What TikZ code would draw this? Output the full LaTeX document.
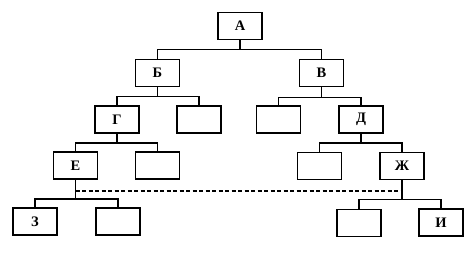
\documentclass[tikz,border=0pt]{standalone}
\usepackage{fontspec}
\setmainfont{Liberation Serif}
\begin{document}
\begin{tikzpicture}[x=1pt,y=-1pt,
  box/.style={draw,line width=1.6pt,minimum width=44pt,minimum height=27pt,inner sep=0pt,
    font=\fontsize{14.5}{16}\selectfont\bfseries},
  link/.style={line width=1.5pt},
  dashlink/.style={line width=1.4pt,dash pattern=on 4pt off 2.5pt}]
\useasboundingbox (0,0) rectangle (476,257);
\node[box] (A) at (240,26) {А};
\node[box] (B) at (157.5,73) {Б};
\node[box] (V) at (321.5,73) {В};
\node[box] (G) at (117,119.5) {Г};
\node[box] (n1) at (199,119.5) {};
\node[box] (n2) at (278.5,119.5) {};
\node[box] (D) at (361,119.5) {Д};
\node[box] (E) at (75.5,165.5) {Е};
\node[box] (n3) at (157.5,165.5) {};
\node[box] (n4) at (319.5,166) {};
\node[box] (Zh) at (402,166) {Ж};
\node[box] (Z) at (35,221.5) {З};
\node[box] (n5) at (118,221.5) {};
\node[box] (n6) at (359,223) {};
\node[box] (I) at (441,222.5) {И};
% connectors
\draw[link] (A.south) -- ++(0,9) -| (B.north);
\draw[link] (A.south) -- ++(0,9) -| (V.north);
\draw[link] (B.south) -- ++(0,9) -| (G.north);
\draw[link] (B.south) -- ++(0,9) -| (n1.north);
\draw[link] (V.south) -- ++(0,10) -| (n2.north);
\draw[link] (V.south) -- ++(0,10) -| (D.north);
\draw[link] (G.south) -- ++(0,9) -| (E.north);
\draw[link] (G.south) -- ++(0,9) -| (n3.north);
\draw[link] (D.south) -- ++(0,9) -| (n4.north);
\draw[link] (D.south) -- ++(0,9) -| (Zh.north);
\draw[link] (E.south) -- ++(0,19) -| (Z.north);
\draw[link] (E.south) -- ++(0,19) -| (n5.north);
\draw[link] (Zh.south) -- ++(0,19) -| (n6.north);
\draw[link] (Zh.south) -- ++(0,19) -| (I.north);
\path (E.south) ++(0,11) coordinate (dl);
\coordinate (dr) at (Zh.south |- dl);
\draw[dashlink] (dl) -- (dr);
\end{tikzpicture}
\end{document}
